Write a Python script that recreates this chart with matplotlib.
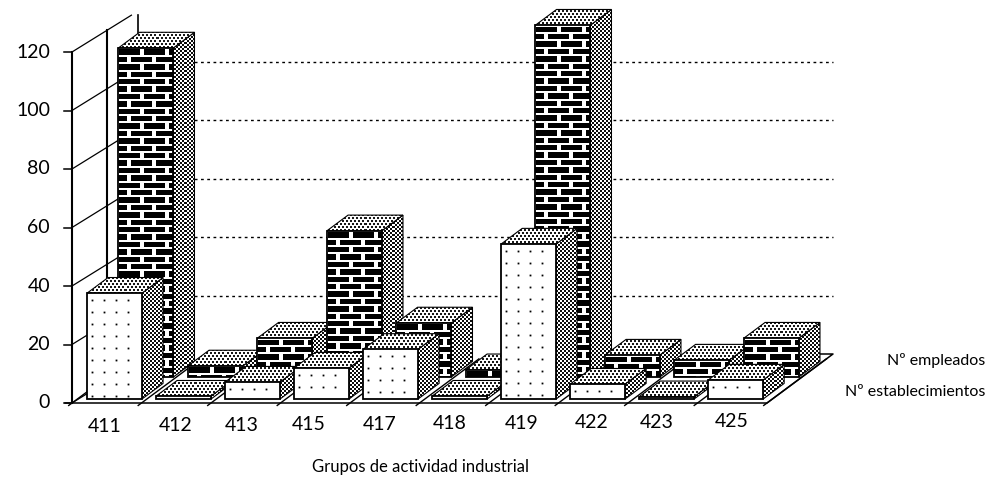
import matplotlib
matplotlib.use('Agg')
import matplotlib.pyplot as plt
import numpy as np
from matplotlib.patches import Polygon, Rectangle
from matplotlib.collections import PatchCollection

plt.rcParams['font.family'] = ['Lato', 'DejaVu Sans']

# datos
grupos = ['411', '412', '413', '415', '417', '418', '419', '422', '423', '425']
empleados = [112.5, 3.8, 13.3, 50, 18.5, 2.5, 120.3, 7.5, 5.8, 13.3]
establecimientos = [36.2, 1, 5.8, 10.6, 17, 1, 53, 5.1, 0.8, 6.5]
yticks = [0, 20, 40, 60, 80, 100, 120]
grid_vals = [20, 40, 60, 80, 100]

# proyeccion oblicua, en pixeles de la imagen
X0, Y0 = 72, 403
CAT = 69.5     # ancho de cada grupo
VAL = 2.925    # pixeles por unidad
DX, DY = 66, 49
etiqueta_x = [105, 176, 242, 309, 380, 450, 522, 592, 657, 732]


def proj(c, d, v):
    return (X0 + CAT * c + DX * d, Y0 - DY * d - VAL * v)


fig = plt.figure(figsize=(9.88, 4.84), dpi=100)
ax = fig.add_axes([0, 0, 1, 1])

# tramas de las caras laterales y superiores
ii, jj = np.mgrid[0:484, 0:988]
trama_lado = 1.0 - ((ii % 4 < 2) ^ (jj % 4 < 2)) * 0.95
trama_tapa = 1.0 - ((ii % 3 != 0) & ((jj + (ii // 3) * 2) % 4 < 2)) * 0.9

# paredes y suelo
n = len(grupos)
ax.plot(*zip(proj(-0.1, 0, 0), proj(n, 0, 0), proj(n, 1, 0), proj(n - 1.6, 1, 0)),
        color='k', lw=1.1, zorder=1)
ax.plot([X0, X0], [Y0, Y0 - VAL * 120], color='k', lw=1.5, zorder=1)
for c in range(n + 1):
    ax.plot(*zip(proj(c, -0.05, 0), proj(c, 0, 0), proj(c, 0.9, 0)), color='k', lw=1.0, zorder=1)
for v in yticks:
    y = Y0 - VAL * v
    ax.plot([X0 - 8, X0], [y, y], color='k', lw=1.1, zorder=1)
    end = 0.9 if v == 120 else 0.72
    ax.plot([X0, X0 + DX * end], [y, y - 0.62 * DX * end], color='k', lw=0.9, zorder=1)
    ax.text(X0 - 22, y, str(v), ha='right', va='center', fontsize=14, color='k')
ax.plot([X0 + DX * 0.53] * 2, [30, Y0 - DY * 0.53], color='k', lw=1.5, zorder=1)
ax.plot([X0 + DX] * 2, [15, Y0 - DY], color='k', lw=1.2, zorder=1)
for v in grid_vals:
    x0, y0 = proj(0, 1, v)
    x1, y1 = proj(n, 1, v)
    ax.plot([x0, x1], [y0, y1], color='k', lw=1.0, ls=(0, (2, 2.5)), zorder=1)

zo = 2


def cara_trama(puntos_cara, trama):
    global zo
    pol = Polygon(puntos_cara, fc='none', ec='k', lw=0.8, zorder=zo + 1)
    ax.add_patch(pol)
    xs = [int(p[0]) for p in puntos_cara]
    ys = [int(p[1]) for p in puntos_cara]
    x0, x1 = max(min(xs) - 1, 0), min(max(xs) + 2, 988)
    y0, y1 = max(min(ys) - 1, 0), min(max(ys) + 2, 484)
    im = ax.imshow(trama[y0:y1, x0:x1], cmap='gray', vmin=0, vmax=1, extent=(x0, x1, y1, y0),
                   interpolation='nearest', aspect='auto', zorder=zo)
    im.set_clip_path(pol)
    zo += 2


def caras(c, off, d0, d1, v, ancho=0.79):
    """dibuja lados y devuelve la esquina de la cara frontal"""
    global zo
    l = c + off
    r = l + ancho
    cara_trama([proj(r, d0, 0), proj(r, d1, 0), proj(r, d1, v), proj(r, d0, v)], trama_lado)
    cara_trama([proj(l, d0, v), proj(r, d0, v), proj(r, d1, v), proj(l, d1, v)], trama_tapa)
    xa, ya = proj(l, d0, v)
    xb, yb = proj(r, d0, 0)
    ax.add_patch(Rectangle((xa, ya), xb - xa, yb - ya, fc='w', ec='k', lw=1.3, zorder=zo))
    zo += 1
    return xa, ya, xb, yb


def ladrillos(xa, ya, xb, yb):
    global zo
    rects = []
    fila = 0
    y = ya + 1.5
    while y < yb:
        x = xa + (-12 if fila % 2 else 1)
        while x < xb:
            left = max(x, xa)
            right = min(x + 21, xb)
            bottom = min(y + 5.3, yb)
            if right > left and bottom > y:
                rects.append(Rectangle((left, y), right - left, bottom - y))
            x += 25
        y += 7.4
        fila += 1
    ax.add_collection(PatchCollection(rects, fc='k', ec='none', zorder=zo))
    zo += 1


def puntos(xa, ya, xb, yb):
    global zo
    xs, ys = [], []
    y = ya + 7
    while y < yb - 2:
        x = xa + 5
        while x < xb - 2:
            xs.append(x)
            ys.append(y)
            x += 12
        y += 12
    ax.plot(xs, ys, ls='', marker='s', ms=1.3, mfc='k', mec='none', zorder=zo)
    zo += 1


for c, v in enumerate(empleados):
    ladrillos(*caras(c, 0.165, 0.53, 0.85, v))
for c, v in enumerate(establecimientos):
    puntos(*caras(c * 0.993, 0.14, 0.08, 0.40, v))

for c, g in enumerate(grupos):
    ax.text(etiqueta_x[c], 426 - 0.45 * c, g, ha='center', va='center', fontsize=14, color='k')

ax.text(420, 467, 'Grupos de actividad industrial', ha='center', va='center', fontsize=12, color='k')
ax.text(985, 360, 'Nº empleados', ha='right', va='center', fontsize=11.5, color='k')
ax.text(985, 392, 'Nº establecimientos', ha='right', va='center', fontsize=11.5, color='k')

ax.set_xlim(0, 988)
ax.set_ylim(484, 0)
ax.axis('off')

fig.savefig('out.png', dpi=100)
